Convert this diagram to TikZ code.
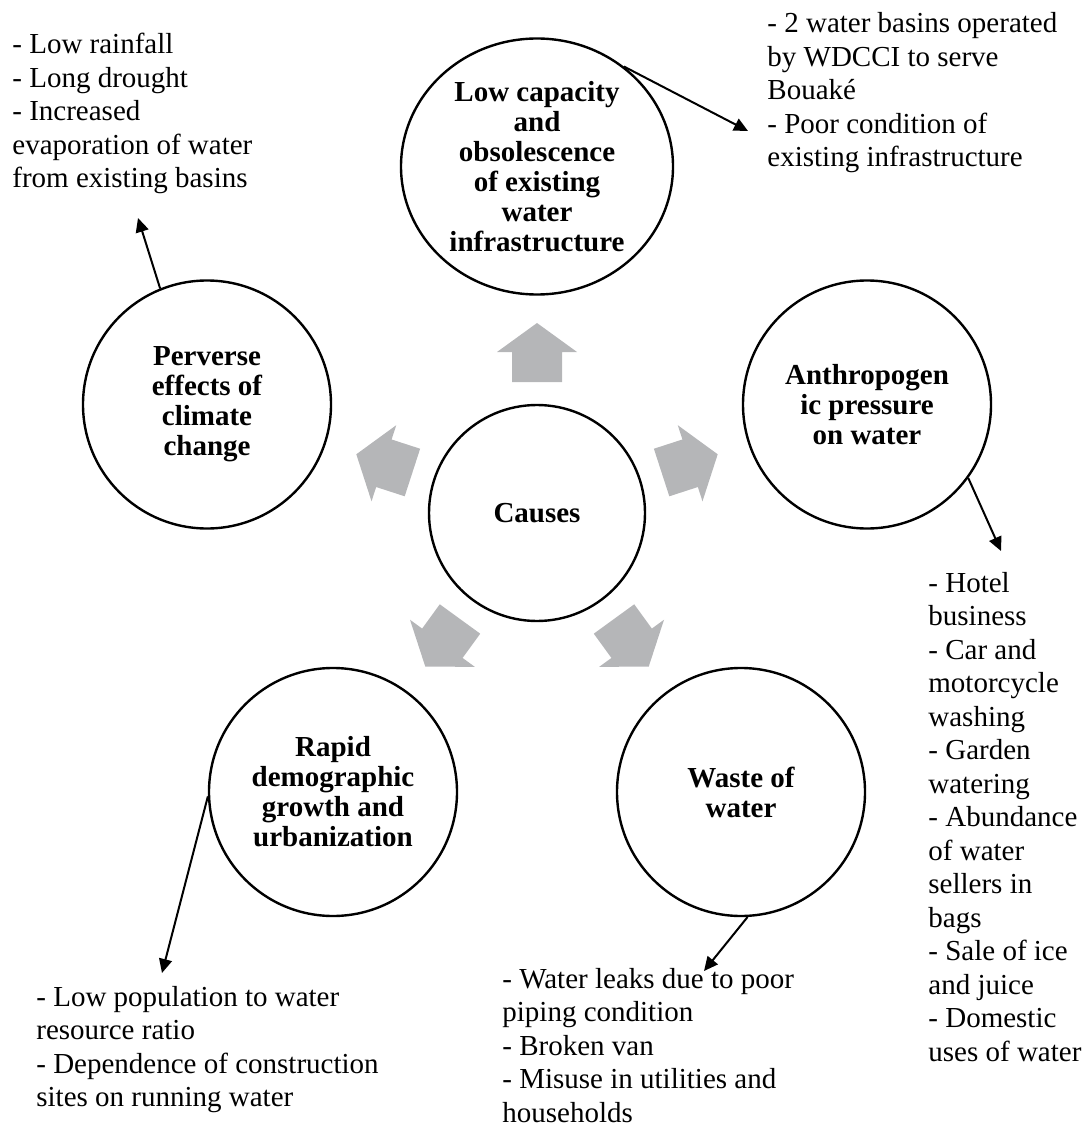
\documentclass[tikz,border=0pt]{standalone}
\usepackage{fontspec}
\setmainfont{Liberation Serif}
\usetikzlibrary{shapes.geometric,arrows.meta}
\definecolor{arrowgray}{RGB}{181,182,184}
\begin{document}
\begin{tikzpicture}[x=0.5pt,y=-0.5pt,
  bubble/.style={circle,draw=black,line width=1.2pt,inner sep=0pt,minimum size=124pt,align=center,
    font=\fontsize{14.5}{15}\selectfont\bfseries},
  note/.style={anchor=base west,inner sep=0pt,align=left,font=\fontsize{14.5}{16.75}\selectfont},
  link/.style={line width=1pt,-{Triangle[length=7pt,width=6.5pt]}},
  fatarrow/.style={fill=arrowgray,draw=none}]
\useasboundingbox (0,0) rectangle (1081,1128);

% gray block arrows around the centre
\foreach \a in {90,18,-54,-126,162}{
  \fill[fatarrow,shift={(537,513)},rotate=\a]
    (131,-25) -- (161,-25) -- (161,-40) -- (190,0) -- (161,40) -- (161,25) -- (131,25) -- cycle;
}

% circles
\node[bubble,minimum size=108pt] (causes) at (537,513) {Causes};
\node[bubble,ellipse,minimum width=136pt,minimum height=128pt] (infra) at (537,166.5)
  {Low capacity\\and\\obsolescence\\of existing\\water\\infrastructure};
\node[bubble] (climate) at (207,404.5) {Perverse\\effects of\\climate\\change};
\node[bubble] (anthro) at (867,404.5) {Anthropogen\\ic pressure\\on water};
\node[bubble] (demo) at (333,792) {Rapid\\demographic\\growth and\\urbanization};
\node[bubble] (waste) at (741,792) {Waste of\\water};

% text blocks (anchored at the baseline of their last line)
\node[note] (tclimate) at (12,188)
  {- Low rainfall\\- Long drought\\- Increased\\evaporation of water\\from existing basins};
\node[note] (tinfra) at (767,167)
  {- 2 water basins operated\\by WDCCI to serve\\Bouaké\\- Poor condition of\\existing infrastructure};
\node[note] (tanthro) at (928,1061)
  {- Hotel\\business\\- Car and\\motorcycle\\washing\\- Garden\\watering\\- Abundance\\of water\\sellers in\\bags\\- Sale of ice\\and juice\\- Domestic\\uses of water};
\node[note] (tdemo) at (36,1106.5)
  {- Low population to water\\resource ratio\\- Dependence of construction\\sites on running water};
\node[note] (twaste) at (502,1122)
  {- Water leaks due to poor\\piping condition\\- Broken van\\- Misuse in utilities and\\households};

% arrow ends
\coordinate (eclimate) at (138,218);
\coordinate (einfra) at (748,131);
\coordinate (eanthro) at (1001,551);
\coordinate (edemo) at (162,973);
\coordinate (ewaste) at (704,971);

\draw[link] (climate.112) -- (eclimate);
\draw[link] (infra.49) -- (einfra);
\draw[link] (anthro.-36) -- (eanthro);
\draw[link] (demo.182) -- (edemo);
\draw[link] (waste.-87) -- (ewaste);
\end{tikzpicture}
\end{document}
